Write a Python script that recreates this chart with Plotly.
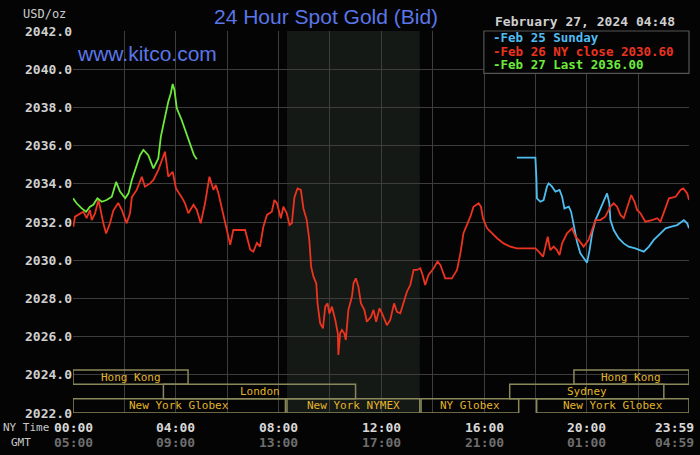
import plotly.graph_objects as go

# hours after midnight (NY time) and bid prices
feb26_hours = [
    0.01, 0.08, 0.4, 0.53, 0.66, 0.73, 0.86, 0.99, 1.05, 1.18, 1.29, 1.44, 1.57, 1.76, 1.9,
    2.09, 2.22, 2.29, 2.48, 2.68, 2.8, 3.0, 3.13, 3.32, 3.58, 3.71, 3.88, 4.01, 4.23, 4.36,
    4.49, 4.69, 4.82, 4.97, 5.14, 5.31, 5.47, 5.56, 5.66, 5.79, 5.96, 6.12, 6.24, 6.51, 6.7,
    6.9, 7.02, 7.16, 7.28, 7.41, 7.55, 7.74, 7.84, 7.94, 8.09, 8.19, 8.32, 8.43, 8.52, 8.62,
    8.74, 8.87, 8.97, 9.1, 9.2, 9.27, 9.36, 9.47, 9.52, 9.62, 9.73, 9.82, 9.91, 9.98, 10.08,
    10.21, 10.31, 10.33, 10.4, 10.47, 10.56, 10.62, 10.72, 10.86, 10.92, 11.01, 11.11, 11.21,
    11.34, 11.44, 11.6, 11.7, 11.8, 11.93, 12.03, 12.22, 12.35, 12.5, 12.61, 12.74, 12.87,
    13.0, 13.13, 13.26, 13.39, 13.52, 13.61, 13.71, 13.84, 14.04, 14.19, 14.3, 14.49, 14.75,
    14.95, 15.08, 15.2, 15.36, 15.47, 15.59, 15.79, 15.88, 15.96, 16.12, 16.31, 16.51, 16.76,
    17.02, 17.28, 18.0, 18.13, 18.3, 18.39, 18.48, 18.58, 18.71, 18.84, 18.94, 19.04, 19.23,
    19.43, 19.56, 19.68, 19.88, 20.07, 20.34, 20.53, 20.72, 20.92, 21.05, 21.18, 21.31, 21.44,
    21.57, 21.73, 21.86, 21.96, 22.09, 22.28, 22.54, 22.74, 22.87, 23.07, 23.2, 23.46, 23.65,
    23.76, 23.91, 23.98,
]
feb26_bid = [
    2031.75, 2032.28, 2032.54, 2032.2, 2032.63, 2032.1, 2032.46, 2033.15, 2032.8, 2031.93,
    2031.4, 2031.93, 2032.6, 2033.0, 2032.63, 2031.93, 2032.46, 2033.3, 2033.68, 2034.37,
    2033.85, 2034.02, 2034.2, 2034.72, 2035.68, 2034.37, 2034.63, 2033.76, 2033.3, 2032.98,
    2032.46, 2032.9, 2032.63, 2031.93, 2032.98, 2034.37, 2033.68, 2033.94, 2033.5, 2032.8,
    2031.75, 2030.8, 2031.58, 2031.58, 2031.58, 2030.55, 2030.45, 2030.9, 2030.71, 2031.75,
    2032.37, 2032.54, 2033.15, 2032.98, 2032.2, 2032.8, 2032.46, 2031.84, 2031.93, 2033.3,
    2033.76, 2033.68, 2032.71, 2032.1, 2031.05, 2029.66, 2029.14, 2028.79, 2027.74, 2026.7,
    2026.43, 2027.57, 2027.74, 2027.2, 2027.57, 2026.87, 2026.17, 2025.04, 2026.17, 2026.35,
    2026.17, 2025.82, 2027.4, 2028.1, 2028.79, 2029.05, 2028.61, 2027.74, 2027.4, 2026.78,
    2027.04, 2027.4, 2026.78, 2027.48, 2027.22, 2026.6, 2026.87, 2027.74, 2027.3, 2027.22,
    2027.74, 2028.35, 2028.7, 2029.49, 2029.49, 2029.58, 2029.23, 2028.7, 2029.23, 2029.58,
    2029.93, 2029.75, 2029.05, 2029.05, 2029.49, 2030.36, 2031.41, 2031.93, 2032.28, 2032.8,
    2032.98, 2032.8, 2032.2, 2031.67, 2031.41, 2031.15, 2030.88, 2030.71, 2030.62, 2030.62,
    2030.45, 2030.18, 2030.71, 2031.23, 2030.53, 2030.71, 2030.53, 2030.27, 2030.88, 2031.41,
    2031.67, 2031.23, 2031.06, 2030.71, 2031.06, 2032.1, 2032.1, 2032.28, 2032.8, 2032.98,
    2032.8, 2032.37, 2032.2, 2032.8, 2033.41, 2033.06, 2032.63, 2032.46, 2032.02, 2032.1,
    2032.2, 2032.02, 2032.71, 2033.24, 2033.32, 2033.68, 2033.76, 2033.5, 2033.15,
]

feb27_hours = [
    0.0, 0.14, 0.34, 0.51, 0.66, 0.79, 0.95, 1.12, 1.31, 1.51, 1.68, 1.83, 2.03, 2.16, 2.29,
    2.42, 2.61, 2.74, 2.93, 3.13, 3.32, 3.42, 3.58, 3.71, 3.81, 3.88, 3.95, 4.04, 4.23, 4.36,
    4.49, 4.62, 4.71, 4.82,
]
feb27_bid = [
    2033.24, 2032.98, 2032.71, 2032.54, 2032.8, 2032.9, 2033.24, 2033.06, 2033.15, 2033.32,
    2034.1, 2033.59, 2033.24, 2033.5, 2034.2, 2034.72, 2035.5, 2035.77, 2035.5, 2034.81,
    2035.33, 2036.47, 2037.51, 2038.3, 2038.74, 2039.23, 2038.91, 2037.95, 2037.34, 2036.82,
    2036.38, 2035.86, 2035.5, 2035.28,
]

feb25_hours = [
    17.28, 18.0, 18.04, 18.06, 18.19, 18.32, 18.45, 18.52, 18.65, 18.78, 18.94, 19.04, 19.13,
    19.3, 19.39, 19.49, 19.62, 19.75, 19.88, 20.01, 20.11, 20.21, 20.34, 20.46, 20.66, 20.79,
    20.88, 20.92, 21.05, 21.24, 21.44, 21.63, 21.89, 22.22, 22.42, 22.61, 22.87, 23.07, 23.26,
    23.52, 23.78, 23.91, 23.98,
]
feb25_bid = [
    2035.37, 2035.37, 2034.29, 2033.24, 2033.06, 2033.15, 2033.85, 2034.02, 2033.85, 2033.59,
    2033.68, 2033.32, 2032.71, 2032.8, 2032.54, 2031.84, 2030.97, 2030.36, 2030.1, 2029.87,
    2030.53, 2031.41, 2032.1, 2032.46, 2033.15, 2033.5, 2032.98, 2032.1, 2031.58, 2031.15,
    2030.88, 2030.71, 2030.62, 2030.45, 2030.71, 2031.06, 2031.41, 2031.67, 2031.75, 2031.84,
    2032.1, 2031.93, 2031.67,
]

# trading sessions: (label, start hour, end hour, row from bottom)
sessions = [
    ("Hong Kong", 0.0, 4.48, 2),
    ("London", 3.52, 11.0, 1),
    ("New York Globex", 0.0, 8.27, 0),
    ("New York NYMEX", 8.33, 13.5, 0),
    ("NY Globex", 13.55, 17.35, 0),
    ("Sydney", 17.0, 23.0, 1),
    ("Hong Kong", 19.5, 23.98, 2),
    ("New York Globex", 18.05, 23.98, 0),
]

tick_hours = [0, 4, 8, 12, 16, 20, 23.98]
ny_labels = ["00:00", "04:00", "08:00", "12:00", "16:00", "20:00", "23:59"]
gmt_labels = ["05:00", "09:00", "13:00", "17:00", "21:00", "01:00", "04:59"]

legend_items = [
    ("Feb 25 Sunday", "#4fbdf0"),
    ("Feb 26 NY close 2030.60", "#ec3320"),
    ("Feb 27 Last 2036.00", "#6eea3c"),
]

MONO = "DejaVu Sans Mono"
BLUE_TEXT = "#5a76e8"
BOX_LINE = "#8a885a"
BOX_TEXT = "#e2b42a"
ROW_H = 0.75


def paper_text(x, y, text, font, xanchor="center"):
    """Put a text at a paper position, anchored on its vertical middle."""
    fig.add_annotation(x=x, y=y, xref="paper", yref="paper", text=text, showarrow=False,
                       xanchor=xanchor, yanchor="middle", font=font)


fig = go.Figure()

for (hours, bid), (_, colour) in zip(
        [(feb25_hours, feb25_bid), (feb26_hours, feb26_bid), (feb27_hours, feb27_bid)],
        legend_items):
    fig.add_trace(go.Scatter(x=hours, y=bid, mode="lines",
                             line=dict(color=colour, width=1.8), showlegend=False,
                             hoverinfo="skip"))

# darker band for the NYMEX pit session
nymex = [s for s in sessions if s[0] == "New York NYMEX"][0]
fig.add_shape(type="rect", xref="x", yref="paper", x0=nymex[1], x1=nymex[2], y0=0, y1=1,
              fillcolor="#151915", line_width=0, layer="below")

for label, start, end, row in sessions:
    y0 = 2022 + row * ROW_H
    fig.add_shape(type="rect", xref="x", yref="y", x0=start, x1=end, y0=y0, y1=y0 + ROW_H,
                  line=dict(color=BOX_LINE, width=1.5), fillcolor="rgba(0,0,0,0)",
                  layer="above")
    fig.add_annotation(x=(start + end) / 2, y=y0 + ROW_H / 2, xref="x", yref="y", text=label,
                       showarrow=False, xanchor="center", yanchor="middle",
                       font=dict(family=MONO, size=11, color=BOX_TEXT))

# legend panel in the top right corner
fig.add_shape(type="rect", xref="paper", yref="paper", x0=0.667, x1=1.0, y0=0.889, y1=1.0,
              fillcolor="#040404", line=dict(color="#555555", width=1.2), layer="above")
for i, (text, colour) in enumerate(legend_items):
    paper_text(0.678, 0.982 - i * 0.0355, "-" + text,
               dict(family=MONO, size=12.5, color=colour, weight="bold"), xanchor="left")

# two-row time axis (NY and GMT)
for i, (h, ny, gmt) in enumerate(zip(tick_hours, ny_labels, gmt_labels)):
    last = i == len(tick_hours) - 1
    common = dict(x=h, xref="x", yref="paper", showarrow=False, yanchor="middle",
                  xanchor="right" if last else "center", xshift=7 if last else 0)
    fig.add_annotation(y=-0.037, text=ny,
                       font=dict(family=MONO, size=13, color="#d8d8d8", weight="bold"),
                       **common)
    fig.add_annotation(y=-0.076, text=gmt,
                       font=dict(family=MONO, size=13, color="#6e6e6e", weight="bold"),
                       **common)

paper_text(-0.077, -0.037, "NY Time", dict(family=MONO, size=11, color="#c8c8c8"))
paper_text(-0.084, -0.076, "GMT", dict(family=MONO, size=11, color="#c8c8c8"))

paper_text(0.411, 1.037, "24 Hour Spot Gold (Bid)",
           dict(family="Liberation Sans", size=21, color=BLUE_TEXT))
paper_text(0.003, 0.942, "www.kitco.com",
           dict(family="Liberation Sans", size=21, color=BLUE_TEXT), xanchor="left")
paper_text(-0.046, 1.045, "USD/oz", dict(family=MONO, size=12, color="#cccccc"))
paper_text(0.981, 1.024, "February 27, 2024 04:48",
           dict(family=MONO, size=13, color="#cfcfcf", weight="bold"), xanchor="right")

fig.update_layout(
    width=700, height=455,
    margin=dict(l=73, r=11, t=31, b=42),
    paper_bgcolor="#040404", plot_bgcolor="#040404",
    xaxis=dict(range=[0, 23.98], dtick=2, tick0=0, showticklabels=False, gridcolor="#3d3d3d",
               gridwidth=1, zeroline=False, showline=False, fixedrange=True),
    yaxis=dict(range=[2022, 2042], dtick=2, tickformat=".1f", gridcolor="#3d3d3d",
               gridwidth=1, zeroline=False, showline=False, ticks="",
               tickfont=dict(family=MONO, size=13, color="#d0d0d0", weight="bold")),
)

fig.write_html("out.html", config={"displayModeBar": False},
               post_script="document.body.style.margin = '0';")
